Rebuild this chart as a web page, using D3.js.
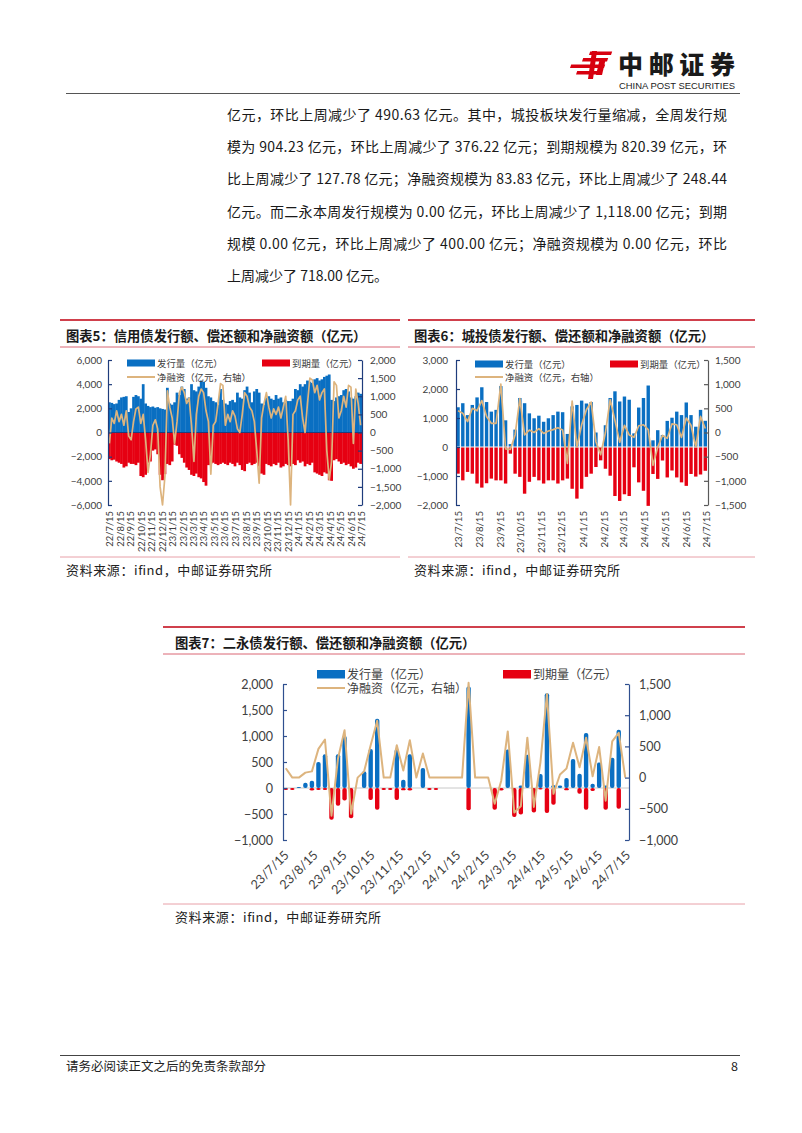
<!DOCTYPE html>
<html><head><meta charset="utf-8">
<script src="https://cdn.jsdelivr.net/npm/d3@7"></script>
<style>
body{margin:0;background:#fff;}
svg text{font-family:"Noto Sans CJK SC",sans-serif;}
</style></head><body>
<script>
// ---------------- DATA ----------------
const c5Issue = [2500,2450,2350,2400,2700,2900,2950,3000,1700,2000,
 2950,3100,3000,2800,4000,2400,2200,2100,2150,2050,
 2100,2000,1950,1900,3700,2400,2300,2500,3300,3100,
 3800,3600,2800,2900,4000,3500,3400,3800,4300,4200,
 3700,3000,2900,2600,2500,2300,3600,2700,2400,2300,
 2600,2700,2500,3300,2900,2800,3500,3800,3300,2500,
 3400,3600,3300,2400,2300,2900,3000,2800,2700,3100,
 2800,2900,2500,2700,2600,2600,2800,3600,3500,4000,
 3800,4000,4300,4200,4100,4400,4500,4300,4400,4600,
 4700,4800,2700,2600,2900,3000,3100,3500,3600,3400,
 2900,2800,3000,3300,3200];
const c5Mature = [-2200,-2300,-2250,-2400,-2500,-2600,-2900,-2800,-2500,-2600,
 -2600,-2700,-2500,-3600,-3700,-3500,-2500,-2400,-1500,-1400,
 -1800,-3500,-3950,-3450,-2600,-2700,-2400,-1000,-1100,-1800,
 -2100,-2500,-2900,-3100,-3500,-3600,-3400,-3700,-3800,-4100,
 -4400,-2700,-2600,-2500,-2600,-2700,-2600,-2500,-2600,-2700,
 -2500,-2600,-2800,-2500,-2700,-3100,-3200,-2600,-2500,-2700,
 -2600,-2500,-2800,-3400,-3500,-2600,-2700,-2800,-2600,-2700,
 -2500,-2900,-2800,-2600,-2700,-2800,-2600,-2700,-2300,-2500,
 -2400,-2800,-2600,-2700,-2500,-3300,-3400,-3500,-3600,-3300,
 -3400,-3950,-4000,-2300,-2200,-2400,-2600,-2500,-2700,-2600,
 -2800,-3000,-2900,-2500,-2600];
const c5Net = [-300,400,250,600,300,500,200,600,-100,-200,
 300,650,700,250,500,-200,-1100,-600,200,350,
 100,-1500,-2000,-1200,1150,700,400,-300,300,1100,
 1250,1100,800,950,200,-800,500,1000,1200,1100,
 600,300,-1150,200,300,800,1350,1300,200,500,
 300,600,450,100,0,500,1100,1000,700,600,
 300,-500,-1400,400,800,1100,700,400,650,500,
 700,400,700,1000,-200,-2000,500,600,900,1000,
 400,0,800,1500,1450,1100,1300,900,1100,1200,
 -500,-1300,-800,1400,1300,400,600,1000,700,1300,
 1250,-300,1200,800,200];
const c5Ticks = ["22/7/15","22/8/15","22/9/15","22/10/15","22/11/15","22/12/15","23/1/15","23/2/15","23/3/15","23/4/15","23/5/15","23/6/15","23/7/15","23/8/15","23/9/15","23/10/15","23/11/15","23/12/15","24/1/15","24/2/15","24/3/15","24/4/15","24/5/15","24/6/15","24/7/15"];

const c6Issue = [1370,1510,1100,1450,1710,2060,1550,1220,1280,2100,
 920,100,600,1690,1510,1160,990,1080,870,990,
 1100,1220,1200,450,1400,1450,1600,1500,1550,500,
 0,750,1690,1920,1570,1740,1630,470,1360,1690,
 2120,230,580,410,900,1010,1220,1100,1535,1100,
 700,1280,904];
const c6Mature = [-920,-1150,-860,-920,-1260,-1400,-1250,-1090,-1150,-1150,
 -1260,-230,-920,-1030,-1610,-1200,-1030,-1150,-1260,-1150,
 -1150,-1260,-1150,-1090,-1440,-1780,-1440,-1030,-920,-690,
 -460,-750,-990,-1690,-1860,-1630,-1690,-700,-1220,-1510,
 -2030,-930,-1100,-465,-1050,-810,-1050,-1220,-1340,-930,
 -1020,-948,-820];
const c6Net = [450,400,225,500,450,660,330,190,190,1000,
 -340,-350,-50,700,-50,50,0,80,-20,30,
 60,100,50,-640,650,-300,160,470,630,-190,
 -460,0,680,250,-200,150,-50,-100,140,160,
 60,-680,-300,-60,-120,180,160,-100,300,150,
 -300,332,84];
const c6Ticks = ["23/7/15","23/8/15","23/9/15","23/10/15","23/11/15","23/12/15","24/1/15","24/2/15","24/3/15","24/4/15","24/5/15","24/6/15","24/7/15"];

const c7Issue = [0,0,20,100,140,500,650,0,650,1000,
 0,0,320,750,1330,0,0,750,160,650,
 0,385,0,0,0,0,0,0,1950,0,
 0,0,0,0,740,0,50,640,0,270,
 1820,60,50,190,560,275,1060,80,490,50,
 580,1118,0];
const c7Mature = [-40,-40,0,0,-50,-40,-40,-610,-340,-240,
 -580,0,0,-230,-420,-40,-40,-230,-45,-50,
 0,0,-40,-40,0,0,0,0,-430,0,
 0,0,-420,-50,0,-560,-510,0,-470,-30,
 -480,-320,0,-45,0,-110,-420,-60,0,-420,
 0,-400,0];
const c7Net = [150,0,0,80,100,460,610,-610,310,760,
 -580,0,100,520,910,0,0,520,115,600,
 0,385,0,0,0,0,0,0,1520,0,
 0,0,-420,-50,740,-560,-460,640,-470,240,
 1340,-260,50,145,560,165,640,20,490,-370,
 580,718,0];
const c7Ticks = c6Ticks;

// ---------------- PAGE ----------------
const blue = "#0A6FC2", red = "#E60012", tan = "#DDB47E", navy = "#1F3C7C";
const svg = d3.select("body").append("svg").attr("width",802).attr("height",1133);

// logo
const lg = svg.append("g").attr("fill","#D7000F");
const bars = [[589,51.5,22],[582,58,25],[570,64.5,34],[576,71,23]];
bars.forEach(b=>{
  const [x0,y0,w]=b, h=3.6, s=1.2;
  lg.append("polygon").attr("points",`${x0+s},${y0} ${x0+w+s},${y0} ${x0+w},${y0+h} ${x0},${y0+h}`);
});
lg.append("polygon").attr("points","592,51 597,51 593,79 588,79");
lg.append("polygon").attr("points","600,58 606,58 602,75 596,75");
svg.append("text").attr("x",618).attr("y",74).attr("font-size",25).attr("font-weight",900)
  .attr("fill","#1a1a1a").attr("textLength",117).attr("lengthAdjust","spacing").text("中邮证券");
svg.append("text").attr("x",619).attr("y",88.5).attr("font-size",9)
  .style("font-family","'Liberation Sans',Arial,sans-serif").attr("fill","#222")
  .attr("textLength",116).attr("lengthAdjust","spacingAndGlyphs").text("CHINA POST SECURITIES");
svg.append("line").attr("x1",66).attr("x2",740).attr("y1",93.5).attr("y2",93.5).attr("stroke","#555").attr("stroke-width",1);

// paragraph
const para = ["亿元，环比上周减少了 490.63 亿元。其中，城投板块发行量缩减，全周发行规",
 "模为 904.23 亿元，环比上周减少了 376.22 亿元；到期规模为 820.39 亿元，环",
 "比上周减少了 127.78 亿元；净融资规模为 83.83 亿元，环比上周减少了 248.44",
 "亿元。而二永本周发行规模为 0.00 亿元，环比上周减少了 1,118.00 亿元；到期",
 "规模 0.00 亿元，环比上周减少了 400.00 亿元；净融资规模为 0.00 亿元，环比",
 "上周减少了 718.00 亿元。"];
para.forEach((t,i)=>{
  const tx = svg.append("text").attr("x",227).attr("y",120+i*32.2).attr("font-size",14).attr("fill","#1a1a1a").text(t);
  if(i<5) tx.attr("textLength",500).attr("lengthAdjust","spacing");
});

// frames
function frame(x0,x1,yTop,title,tx,yBottom){
  svg.append("line").attr("x1",x0).attr("x2",x1).attr("y1",yTop).attr("y2",yTop).attr("stroke","#C00010").attr("stroke-width",1.6);
  svg.append("text").attr("x",tx).attr("y",yTop+21).attr("font-size",13.3).attr("font-weight",700).attr("fill","#1a1a1a").text(title);
  svg.append("line").attr("x1",x0).attr("x2",x1).attr("y1",yTop+27).attr("y2",yTop+27).attr("stroke","#D04050").attr("stroke-width",0.8);
  svg.append("line").attr("x1",x0).attr("x2",x1).attr("y1",yBottom).attr("y2",yBottom).attr("stroke","#E8A0A8").attr("stroke-width",1);
  svg.append("text").attr("x",tx).attr("y",yBottom+18).attr("font-size",13).attr("fill","#222")
    .attr("textLength",206).attr("lengthAdjust","spacing").text("资料来源：ifind，中邮证券研究所");
}
frame(60,400,320,"图表5：信用债发行额、偿还额和净融资额（亿元）",66,557);
frame(408,755,320,"图表6：城投债发行额、偿还额和净融资额（亿元）",414,557);
frame(163,745,627,"图表7：二永债发行额、偿还额和净融资额（亿元）",175,904);

// footer
svg.append("line").attr("x1",60).attr("x2",740).attr("y1",1055.5).attr("y2",1055.5).attr("stroke","#444").attr("stroke-width",1);
svg.append("text").attr("x",66).attr("y",1071).attr("font-size",12.5).attr("fill","#222").text("请务必阅读正文之后的免责条款部分");
svg.append("text").attr("x",731).attr("y",1071).attr("font-size",12.5).attr("fill","#222").text("8");

// ---------------- CHART FUNCTION ----------------
const parseT = d3.timeParse("%y/%m/%d");
const fmt = d3.format(",");
function drawChart(c){
  const g = svg.append("g");
  const dates = c.issue.map((_,i)=>d3.timeWeek.offset(c.start,i));
  const x = d3.scaleTime().domain(c.xDomain).range([c.left,c.right]);
  const yL = d3.scaleLinear().domain(c.yL).range([c.bottom,c.top]);
  const yR = d3.scaleLinear().domain(c.yR).range([c.bottom,c.top]);
  if(c.zeroUnder) g.append("line").attr("x1",c.left).attr("x2",c.right).attr("y1",yL(0)).attr("y2",yL(0)).attr("stroke",c.zeroUnder).attr("stroke-width",1);
  const bw = c.barW;
  const mk = (vals,col)=>g.append("g").selectAll("rect").data(vals.map((v,i)=>({d:dates[i],v})).filter(d=>d.v!==0)).join("rect")
    .attr("x",d=>x(d.d)-bw/2).attr("width",bw)
    .attr("y",d=>yL(Math.max(0,d.v))).attr("height",d=>Math.max(0.8,Math.abs(yL(d.v)-yL(0))))
    .attr("rx",c.rx||0).attr("fill",col);
  mk(c.issue,blue); mk(c.mature,red);
  if(c.zeroOver) g.append("line").attr("x1",c.left).attr("x2",c.right).attr("y1",yL(0)).attr("y2",yL(0)).attr("stroke",c.zeroOver).attr("stroke-width",1);
  g.append("path").datum(c.net.map((v,i)=>({d:dates[i],v}))).attr("fill","none").attr("stroke",tan)
    .attr("stroke-width",c.lineW).attr("stroke-linejoin","round")
    .attr("d",d3.line().x(d=>x(d.d)).y(d=>yR(d.v)));
  // axes
  const styleAx = (sel,col)=>{
    sel.selectAll("path,line").attr("stroke",col).attr("stroke-width",1.2);
    sel.selectAll("text").attr("fill","#404040").attr("font-size",c.fs).style("font-family","Lato,'Noto Sans CJK SC',sans-serif");
  };
  const aL = g.append("g").attr("transform",`translate(${c.left},0)`)
    .call(d3.axisLeft(yL).tickValues(d3.range(c.yL[0],c.yL[1]+1,c.stepL)).tickFormat(fmt).tickSizeInner(-4).tickSizeOuter(0).tickPadding(c.padL));
  styleAx(aL,c.colL);
  const aR = g.append("g").attr("transform",`translate(${c.right},0)`)
    .call(d3.axisRight(yR).tickValues(d3.range(c.yR[0],c.yR[1]+1,c.stepR)).tickFormat(fmt).tickSizeInner(-4).tickSizeOuter(0).tickPadding(c.padR));
  styleAx(aR,c.colR);
  // x labels
  c.ticks.forEach(t=>{
    const px = x(parseT(t));
    g.append("text").attr("transform",`translate(${px+c.lx},${c.ly}) rotate(${c.rot})`)
      .attr("text-anchor","end").attr("font-size",c.xfs).attr("fill","#404040")
      .style("font-family","Lato,'Noto Sans CJK SC',sans-serif").text(t);
  });
  // legend
  const L = c.leg;
  g.append("rect").attr("x",L.bx).attr("y",L.by).attr("width",28).attr("height",L.sh).attr("fill",blue);
  g.append("text").attr("x",L.bx+30).attr("y",L.by+L.sh).attr("font-size",L.fs).attr("fill","#404040").text("发行量（亿元）");
  g.append("rect").attr("x",L.rx).attr("y",L.by).attr("width",28).attr("height",L.sh).attr("fill",red);
  g.append("text").attr("x",L.rx+30).attr("y",L.by+L.sh).attr("font-size",L.fs).attr("fill","#404040").text("到期量（亿元）");
  g.append("line").attr("x1",L.bx).attr("x2",L.bx+28).attr("y1",L.ly).attr("y2",L.ly).attr("stroke",tan).attr("stroke-width",2);
  g.append("text").attr("x",L.bx+30).attr("y",L.ly+L.fs*0.45).attr("font-size",L.fs).attr("fill","#404040").text("净融资（亿元，右轴）");
}

drawChart({issue:c5Issue,mature:c5Mature,net:c5Net,start:new Date(2022,6,15),
  xDomain:[new Date(2022,6,11),new Date(2024,6,16)],left:108,right:362,top:360,bottom:505,
  yL:[-6000,6000],stepL:2000,yR:[-2000,2000],stepR:500,barW:2.75,lineW:1.7,
  zeroOver:navy,colL:navy,colR:navy,fs:10,padL:6,padR:8,
  ticks:c5Ticks,rot:-90,lx:3.5,ly:511,xfs:9.4,
  leg:{bx:127,by:359.5,rx:262,sh:7,ly:377,fs:9.4}});

drawChart({issue:c6Issue,mature:c6Mature,net:c6Net,start:new Date(2023,6,15),
  xDomain:[new Date(2023,6,12),new Date(2024,6,17)],left:456,right:708,top:360,bottom:505,
  yL:[-2000,3000],stepL:1000,yR:[-1500,1500],stepR:500,barW:3.4,lineW:1.7,
  zeroOver:"#f4f4f4",colL:navy,colR:"#595959",fs:10,padL:8,padR:7,
  ticks:c6Ticks,rot:-90,lx:3.5,ly:511,xfs:9.6,
  leg:{bx:475,by:360.5,rx:610,sh:7,ly:377,fs:9.4}});

drawChart({issue:c7Issue,mature:c7Mature,net:c7Net,start:new Date(2023,6,15),
  xDomain:[new Date(2023,6,12),new Date(2024,6,17)],left:283,right:629,top:684,bottom:840,
  yL:[-1000,2000],stepL:500,yR:[-1000,1500],stepR:500,barW:4.4,rx:2,lineW:2,
  zeroUnder:"#C8C8C8",colL:"#2F4F8F",colR:"#2F4F8F",fs:12.5,padL:10,padR:10,
  ticks:c7Ticks,rot:-45,lx:4,ly:856,xfs:12.6,
  leg:{bx:317,by:670,rx:503,sh:8.5,ly:688,fs:12}});
</script>
</body></html>
